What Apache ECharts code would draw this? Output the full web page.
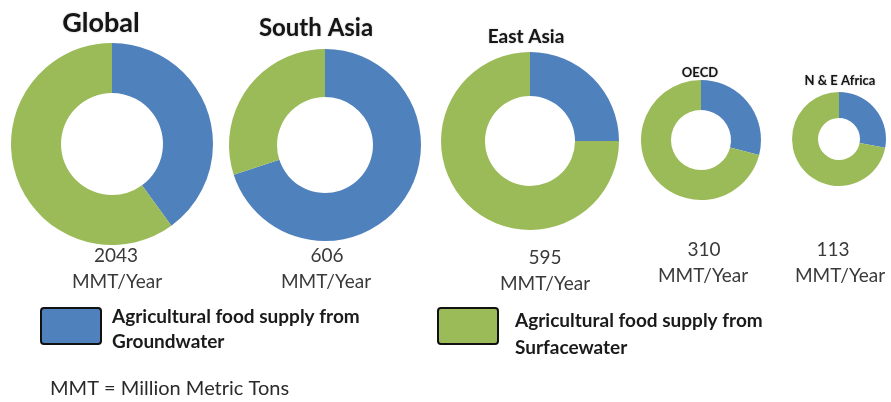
<!DOCTYPE html>
<html>
<head>
<meta charset="utf-8">
<script src="https://cdn.jsdelivr.net/npm/echarts@6/dist/echarts.min.js"></script>
<style>
  html, body { margin: 0; padding: 0; background: #ffffff; }
  #chart { width: 891px; height: 402px; }
</style>
</head>
<body>
<div id="chart"></div>
<script>
// Regions and their agricultural food supply
const regions = ['Global', 'South Asia', 'East Asia', 'OECD', 'N & E Africa'];
const totalSupply = [2043, 606, 595, 310, 113];          // MMT/Year
const groundwaterShare = [40, 70, 25, 29, 28];           // % of supply from groundwater
const surfacewaterShare = [60, 30, 75, 71, 72];          // % of supply from surface water
const sourceNames = ['Groundwater', 'Surfacewater'];
const legendPrefix = 'Agricultural food supply from';
const unitLabel = 'MMT/Year';
const footnote = 'MMT = Million Metric Tons';

// Layout of each donut: centre, outer/inner radius, title and value-label placement
const layout = [
  { cx: 112, cy: 144, r: 101, ri: 51, tx: 101, ty: 23, ts: 27, nx: 116, ux: 117, vy: 246 },
  { cx: 325, cy: 145, r: 96,  ri: 48, tx: 316, ty: 28, ts: 24, nx: 327, ux: 326, vy: 246 },
  { cx: 530, cy: 141, r: 89,  ri: 45, tx: 526, ty: 37, ts: 19, nx: 545, ux: 545, vy: 248 },
  { cx: 701, cy: 140, r: 60,  ri: 30, tx: 700, ty: 73, ts: 13, nx: 704, ux: 703, vy: 240 },
  { cx: 839, cy: 139, r: 47,  ri: 21, tx: 840, ty: 81, ts: 13, nx: 833, ux: 840, vy: 240 }
];

// Legend swatch / caption placement
const legendLayout = [
  { left: 40, top: 307, textX: 112, textY: 304, lineHeight: 25 },
  { left: 437, top: 307, textX: 515, textY: 307, lineHeight: 27 }
];

const BLUE = '#4F81BD';
const GREEN = '#9BBB59';
const FONT = 'Lato, "Open Sans", sans-serif';

const series = regions.map((name, i) => ({
  type: 'pie',
  name: name,
  center: [layout[i].cx, layout[i].cy],
  radius: [layout[i].ri, layout[i].r],
  startAngle: 90,
  clockwise: true,
  silent: true,
  label: { show: false },
  labelLine: { show: false },
  itemStyle: { borderWidth: 0 },
  emphasis: { disabled: true },
  data: [
    { name: sourceNames[0], value: groundwaterShare[i], itemStyle: { color: BLUE } },
    { name: sourceNames[1], value: surfacewaterShare[i], itemStyle: { color: GREEN } }
  ]
}));

const graphics = [];
regions.forEach((name, i) => {
  const L = layout[i];
  // region title above each donut
  graphics.push({
    type: 'text', x: L.tx, y: L.ty,
    style: {
      text: name, fill: '#151515', font: 'bold ' + L.ts + 'px ' + FONT,
      align: 'center', verticalAlign: 'middle',
      textShadowColor: 'rgba(0,0,0,0.25)', textShadowBlur: 2
    }
  });
  // total supply and unit below each donut
  graphics.push({
    type: 'text', x: L.nx, y: L.vy,
    style: {
      text: String(totalSupply[i]), fill: '#3a3a3a',
      font: '19px ' + FONT, align: 'center', verticalAlign: 'top'
    }
  });
  graphics.push({
    type: 'text', x: L.ux, y: L.vy + 26,
    style: {
      text: unitLabel, fill: '#3a3a3a',
      font: '19px ' + FONT, align: 'center', verticalAlign: 'top'
    }
  });
});

// legend captions (two lines each)
sourceNames.forEach((n, i) => {
  const G = legendLayout[i];
  graphics.push({
    type: 'text', x: G.textX, y: G.textY,
    style: {
      text: legendPrefix + '\n' + n, fill: '#1a1a1a',
      font: 'bold 19px ' + FONT, lineHeight: G.lineHeight, verticalAlign: 'top'
    }
  });
});

graphics.push({
  type: 'text', x: 50, y: 379,
  style: { text: footnote, fill: '#2a2a2a', font: '20px ' + FONT, verticalAlign: 'top' }
});

// slightly rounded box used as the legend swatch
const swatch = 'path://M3,0 H57 Q60,0 60,3 V33 Q60,36 57,36 H3 Q0,36 0,33 V3 Q0,0 3,0 Z';

const legends = sourceNames.map((n, i) => ({
  orient: 'horizontal',
  left: legendLayout[i].left,
  top: legendLayout[i].top,
  padding: 0,
  icon: swatch,
  itemWidth: 60,
  itemHeight: 36,
  selectedMode: false,
  itemStyle: { borderColor: '#111111', borderWidth: 2 },
  formatter: () => '',
  data: [n]
}));

const option = {
  animation: false,
  backgroundColor: '#ffffff',
  legend: legends,
  graphic: graphics,
  series: series
};

const chart = echarts.init(document.getElementById('chart'), null, { renderer: 'canvas' });
chart.setOption(option);
</script>
</body>
</html>
